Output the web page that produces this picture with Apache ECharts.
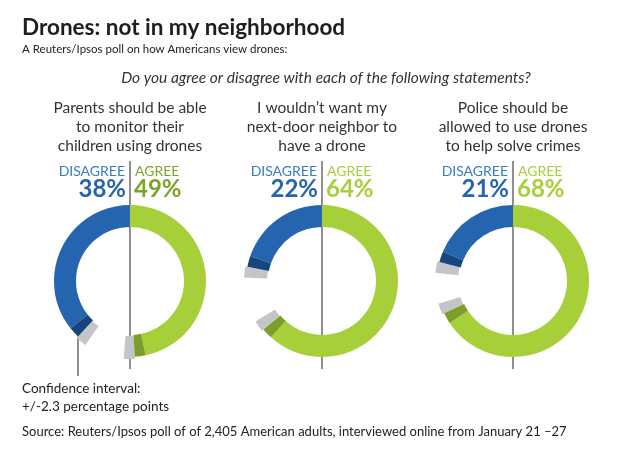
<!DOCTYPE html>
<html>
<head>
<meta charset="utf-8">
<script src="https://cdn.jsdelivr.net/npm/echarts@6/dist/echarts.min.js"></script>
<style>
  html, body { margin: 0; padding: 0; background: #fff; }
  #chart { width: 620px; height: 470px; }
</style>
</head>
<body>
<div id="chart"></div>
<script>
// ---- Data ----
const title = "Drones: not in my neighborhood";
const subtitle = "A Reuters/Ipsos poll on how Americans view drones:";
const question = "Do you agree or disagree with each of the following statements?";
const statements = [
  ["Parents should be able", "to monitor their", "children using drones"],
  ["I wouldn\u2019t want my", "next-door neighbor to", "have a drone"],
  ["Police should be", "allowed to use drones", "to help solve crimes"]
];
const disagree = [38, 22, 21];
const agree = [49, 64, 68];
const ci = 2.3;
const ciNote = ["Confidence interval:", "+/-2.3 percentage points"];
const source = "Source: Reuters/Ipsos poll of of 2,405 American adults, interviewed online from January 21 \u201327";

// ---- Layout / style ----
const FONT = "Lato, 'Open Sans', sans-serif";
const centersX = [130, 322, 513];
const cy = 281;
const rIn = 54, rOut = 76;
const blue = "#2565b0", blueDark = "#17467f";
const green = "#a7cf3a", greenDark = "#7a9e27";
const gray = "#c3c5c8";
const agreeText = ["#7ca42a", "#a7cf3a", "#a7cf3a"];
const T = "rgba(0,0,0,0)";

const chart = echarts.init(document.getElementById("chart"), null, { renderer: "canvas" });

const series = [];
const graphic = [];

function txt(text, x, y, font, fill, align) {
  graphic.push({
    type: "text", silent: true,
    style: { text: text, x: x, y: y, font: font, fill: fill, textAlign: align || "left", textVerticalAlign: "middle" }
  });
}
function line(x1, y1, x2, y2) {
  graphic.push({
    type: "line", silent: true,
    shape: { x1: x1, y1: y1, x2: x2, y2: y2 },
    style: { stroke: "#6b6b6b", lineWidth: 1.5 }
  });
}

function pie(cx, radius, clockwise, items) {
  series.push({
    type: "pie", silent: true, animation: false,
    center: [cx, cy], radius: radius, startAngle: 90, clockwise: clockwise,
    label: { show: false }, labelLine: { show: false },
    emphasis: { disabled: true },
    avoidLabelOverlap: false,
    itemStyle: { borderWidth: 0 },
    data: items.map(function (d) { return { value: d[0], itemStyle: { color: d[1] } }; })
  });
}

centersX.forEach(function (cx, i) {
  const d = disagree[i], a = agree[i];
  // gray upper CI (slightly wider ring)
  pie(cx, [rIn + 1, rOut + 2], false, [[d, T], [ci, gray], [100 - d - ci, T]]);
  pie(cx, [rIn + 1, rOut + 2], true, [[a, T], [ci, gray], [100 - a - ci, T]]);
  // disagree (counter-clockwise)
  pie(cx, [rIn, rOut], false, [[d - ci, blue], [ci, blueDark], [100 - d, T]]);
  // agree (clockwise)
  pie(cx, [rIn, rOut], true, [[a - ci, green], [ci, greenDark], [100 - a, T]]);

  // statement text
  statements[i].forEach(function (s, k) {
    txt(s, cx, 108 + k * 19, "15.5px " + FONT, "#333", "center");
  });
  // labels
  txt("DISAGREE", cx - 5, 171, "14px " + FONT, "#3a7ac6", "right");
  txt(d + "%", cx - 4, 189, "bold 24px " + FONT, blue, "right");
  txt("AGREE", cx + 5, 171, "14px " + FONT, agreeText[i], "left");
  txt(a + "%", cx + 4, 189, "bold 24px " + FONT, agreeText[i], "left");
  // separator line
  line(cx, 161, cx, 369);
});

// confidence pointer line, from the end of first disagree arc
(function () {
  const ang = disagree[0] / 100 * 2 * Math.PI;
  const px = centersX[0] - rOut * Math.sin(ang);
  const py = cy - rOut * Math.cos(ang);
  line(px, py, px, 376);
})();

txt(title, 22, 28, "bold 22.5px " + FONT, "#1e1e1e", "left");
txt(subtitle, 22, 49, "11.5px " + FONT, "#222", "left");
txt(question, 326, 78, "italic 15.5px " + FONT, "#333", "center");
txt(ciNote[0], 22, 389, "13.5px " + FONT, "#222", "left");
txt(ciNote[1], 22, 407, "13.5px " + FONT, "#222", "left");
txt(source, 22, 432, "13px " + FONT, "#222", "left");

chart.setOption({
  animation: false,
  backgroundColor: "#fff",
  series: series,
  graphic: graphic
});
</script>
</body>
</html>
